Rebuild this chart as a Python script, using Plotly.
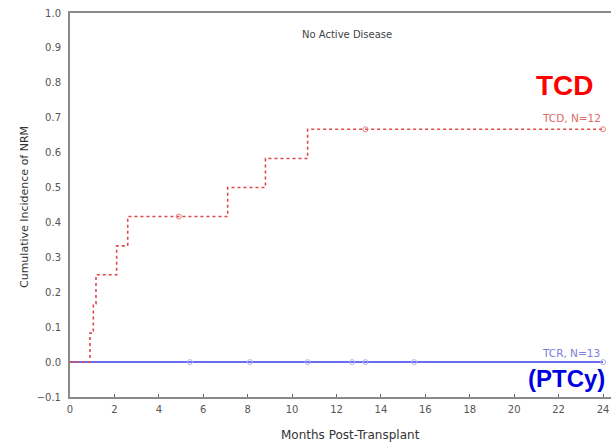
import plotly.graph_objects as go

# TCD (red) step curve: event times (months) and cumulative incidence
tcd_x = [0, 0.9, 0.9, 1.05, 1.05, 1.17, 1.17, 2.1, 2.1, 2.6, 2.6, 7.1, 7.1, 8.8, 8.8, 10.7, 10.7, 24.0]
tcd_y = [0, 0, 0.083, 0.083, 0.167, 0.167, 0.25, 0.25, 0.333, 0.333, 0.417, 0.417, 0.5, 0.5, 0.583, 0.583, 0.667, 0.667]
tcd_cens_x = [4.9, 13.3, 24.0]
tcd_cens_y = [0.417, 0.667, 0.667]

# TCR / PTCy (blue) curve
tcr_x = [0, 24.0]
tcr_y = [0, 0]
tcr_cens_x = [5.4, 8.1, 10.7, 12.7, 13.3, 15.5, 24.0]
tcr_cens_y = [0, 0, 0, 0, 0, 0, 0]

x_ticks = [0, 2, 4, 6, 8, 10, 12, 14, 16, 18, 20, 22, 24]
y_ticks = [-0.1, 0.0, 0.1, 0.2, 0.3, 0.4, 0.5, 0.6, 0.7, 0.8, 0.9, 1.0]

red = "#e04848"
blue = "#6b6bf2"
font = "Liberation Sans, Arial, sans-serif"
small = "DejaVu Sans, sans-serif"

fig = go.Figure()
fig.add_trace(go.Scatter(x=tcr_x, y=tcr_y, mode="lines",
                         line=dict(color=blue, width=2), showlegend=False))
fig.add_trace(go.Scatter(x=tcr_cens_x, y=tcr_cens_y, mode="markers",
                         marker=dict(symbol="circle-open", size=5, color="#b0b0f5", line=dict(width=1)),
                         showlegend=False))
fig.add_trace(go.Scatter(x=tcd_x, y=tcd_y, mode="lines",
                         line=dict(color=red, width=1.6, dash="dot"), showlegend=False))
fig.add_trace(go.Scatter(x=tcd_cens_x, y=tcd_cens_y, mode="markers",
                         marker=dict(symbol="circle-open", size=5, color="#e08080", line=dict(width=1)),
                         showlegend=False))

W, H = 611, 442
l, r, t, b = 70, 0, 13, 45
pw, ph = W - l - r, H - t - b


def px_ann(text, px, py, size, color, angle=0, family=small):
    return dict(text=text, x=(px - l) / pw, y=1 - (py - t) / ph, xref="paper", yref="paper",
                xanchor="center", yanchor="middle", showarrow=False, textangle=angle,
                font=dict(size=size, color=color, family=family))


fig.update_layout(
    width=W, height=H,
    margin=dict(l=l, r=r, t=t, b=b),
    paper_bgcolor="white", plot_bgcolor="white",
    font=dict(family=small, size=10, color="#555"),
    xaxis=dict(range=[0, 24.36], tickvals=x_ticks, showgrid=False, zeroline=False,
               showline=True, linecolor="#8a8a8a", linewidth=2, mirror=True,
               ticks="inside", ticklen=3, tickcolor="#666", ticklabelstandoff=2,
               tickfont=dict(size=10, color="#555", family=small)),
    yaxis=dict(range=[-0.1, 1.0], tickvals=y_ticks, tickformat=".1f", showgrid=False,
               zeroline=False, showline=True, linecolor="#8a8a8a", linewidth=2,
               ticks="", ticklabelstandoff=5,
               tickfont=dict(size=10, color="#555", family=small)),
    annotations=[
        px_ann("No Active Disease", 347, 35, 10, "#444"),
        dict(text="TCD, N=12", x=24.0, y=0.70, xref="x", yref="y", xanchor="right",
             yanchor="middle", showarrow=False,
             font=dict(size=10.5, color="#dd6a6a", family=small)),
        dict(text="TCR, N=13", x=23.95, y=0.027, xref="x", yref="y", xanchor="right",
             yanchor="middle", showarrow=False,
             font=dict(size=10.5, color="#7c7cdc", family=small)),
        px_ann("<b>TCD</b>", 565, 86, 28, "#ff0000", family=font),
        px_ann("<b>(PTCy)</b>", 566, 378, 24, "#0000e0", family=font),
        px_ann("Months Post-Transplant", 350, 435, 12, "#333"),
        px_ann("Cumulative Incidence of NRM", 24, 207, 11, "#333", angle=-90),
    ],
)

fig.write_html("out.html")
